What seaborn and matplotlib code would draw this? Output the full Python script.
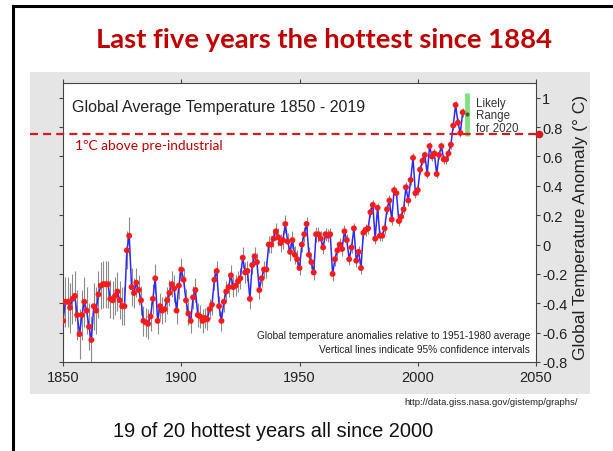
import numpy as np
import pandas as pd
import matplotlib
matplotlib.use("Agg")
import matplotlib.pyplot as plt
from matplotlib.patches import Rectangle
from matplotlib.lines import Line2D
import seaborn as sns

# Annual global temperature anomaly (deg C, relative to 1951-1980), 1850-2019
years = list(range(1850, 2020))
anomaly = [
    -0.52, -0.39, -0.39, -0.43, -0.37, -0.35, -0.48, -0.61, -0.48, -0.39,
    -0.45, -0.56, -0.65, -0.42, -0.45, -0.34, -0.28, -0.27, -0.27, -0.27,
    -0.37, -0.38, -0.35, -0.32, -0.38, -0.42, -0.42, -0.04, 0.06, -0.29,
    -0.33, -0.26, -0.31, -0.38, -0.52, -0.53, -0.54, -0.49, -0.37, -0.23,
    -0.52, -0.42, -0.45, -0.44, -0.38, -0.33, -0.27, -0.30, -0.45, -0.28,
    -0.17, -0.24, -0.38, -0.47, -0.52, -0.36, -0.31, -0.48, -0.49, -0.52,
    -0.50, -0.51, -0.44, -0.41, -0.24, -0.18, -0.42, -0.52, -0.39, -0.32,
    -0.29, -0.21, -0.29, -0.28, -0.25, -0.23, -0.09, -0.19, -0.18, -0.37,
    -0.14, -0.08, -0.12, -0.31, -0.23, -0.17, -0.17, 0.00, 0.00, 0.04,
    0.09, 0.05, 0.01, 0.03, 0.14, 0.02, -0.05, 0.03, -0.07, -0.10,
    -0.16, 0.00, 0.07, 0.14, -0.07, -0.12, -0.19, 0.07, 0.07, 0.04,
    -0.02, 0.07, 0.06, 0.07, -0.20, -0.10, -0.04, 0.00, -0.03, 0.09,
    0.03, -0.10, -0.02, 0.11, -0.11, -0.05, -0.16, 0.08, 0.10, 0.11,
    0.22, 0.27, 0.04, 0.25, 0.06, 0.06, 0.11, 0.24, 0.30, 0.17,
    0.37, 0.35, 0.16, 0.19, 0.24, 0.39, 0.30, 0.44, 0.59, 0.35,
    0.37, 0.51, 0.57, 0.61, 0.48, 0.67, 0.60, 0.62, 0.48, 0.61,
    0.67, 0.58, 0.58, 0.62, 0.68, 0.81, 0.95, 0.83, 0.76, 0.90,
]
# 95% confidence half-width, one value per decade (1850s ... 2010s)
ci_by_decade = [0.17, 0.16, 0.13, 0.10, 0.09, 0.08, 0.07, 0.07, 0.06,
                0.06, 0.05, 0.045, 0.04, 0.035, 0.035, 0.03, 0.03]

x_ticks = [1850, 1900, 1950, 2000, 2050]
y_ticks = [-0.8, -0.6, -0.4, -0.2, 0, 0.2, 0.4, 0.6, 0.8, 1]
y_tick_labels = ["-0.8", "-0.6", "-0.4", "-0.2", "0", "0.2", "0.4", "0.6", "0.8", "1"]

threshold = 0.75            # 1 deg C above pre-industrial
likely_2020 = (0.74, 1.03)  # likely range for 2020
likely_2020_mid = 0.89

df = pd.DataFrame({"year": years, "anomaly": anomaly})
df["ci"] = np.repeat(ci_by_decade, 10)

sns.set_theme(style="white")
plt.rcParams["font.family"] = ["Liberation Sans", "DejaVu Sans"]

W, H = 613, 452
fig = plt.figure(figsize=(W / 100, H / 100), dpi=100)
fig.patch.set_facecolor("white")

# slide frame (left and top edges)
fig.add_artist(Line2D([13 / W, 13 / W], [0, 1 - 7 / H], transform=fig.transFigure,
                      color="black", lw=2.2, solid_capstyle="projecting"))
fig.add_artist(Line2D([13 / W, 1], [1 - 7 / H, 1 - 7 / H], transform=fig.transFigure,
                      color="black", lw=2.2, solid_capstyle="projecting"))

# grey graph panel
fig.add_artist(Rectangle((30 / W, 1 - 395 / H), 560 / W, 322 / H,
                         transform=fig.transFigure, facecolor="#e5e5e5",
                         edgecolor="none", zorder=0))

ax = fig.add_axes([63 / W, 1 - 363 / H, 473 / W, 279 / H])
ax.set_facecolor("white")
ax.set_xlim(1850, 2050)
ax.set_ylim(-0.8, 1.1)

# confidence intervals
ax.vlines(df["year"], df["anomaly"] - df["ci"], df["anomaly"] + df["ci"],
          color="#8a8a8a", lw=0.8, zorder=1)
sns.lineplot(data=df, x="year", y="anomaly", color="#2a2aff", lw=1.1,
             ax=ax, zorder=2, legend=False)
sns.scatterplot(data=df, x="year", y="anomaly", color="#ff1a1a", s=18,
                edgecolor="none", ax=ax, zorder=3, legend=False)

# likely range bar for 2020
ax.vlines(2021, likely_2020[0], likely_2020[1], color="#7fe07f", lw=3.4, zorder=2)
ax.plot([2021], [likely_2020_mid], marker="o", ms=2, color="#2e6b2e", zorder=3)
ax.text(2024.5, 1.005, "Likely\nRange\nfor 2020", ha="left", va="top",
        fontsize=8.3, color="#333333", linespacing=1.05)

# 1 deg C line
ax.plot([1836, 2051.3], [threshold, threshold], color="#d41c1c", lw=1.6,
        dashes=(3.6, 2.3), clip_on=False, zorder=4)
ax.plot([2051.3], [threshold], marker="o", ms=4.5, color="#d41c1c",
        clip_on=False, zorder=4)
ax.text(1855, 0.68, "1ºC above pre-industrial", ha="left", va="center",
        fontsize=9.9, color="#c00000", family=["Lato", "DejaVu Sans"])

ax.text(1854, 0.94, "Global Average Temperature 1850 - 2019", ha="left",
        va="center", fontsize=11.5, color="#222222")
ax.text(2047.5, -0.615, "Global temperature anomalies relative to 1951-1980 average",
        ha="right", va="center", fontsize=7.3, color="#222222")
ax.text(2047.5, -0.71, "Vertical lines indicate 95% confidence intervals",
        ha="right", va="center", fontsize=7.3, color="#222222")

# axes styling
ax.set_xticks(x_ticks)
ax.set_xticklabels([str(t) for t in x_ticks])
ax.set_yticks(y_ticks)
ax.set_yticklabels(y_tick_labels)
ax.tick_params(axis="y", left=True, right=True, labelleft=False, labelright=True,
               direction="out", length=3, width=0.8, color="#444444",
               labelsize=10.5, pad=1.5, labelcolor="#222222")
ax.tick_params(axis="x", bottom=True, top=True, direction="out", length=3,
               width=0.8, color="#444444", labelsize=10.5, pad=3,
               labelcolor="#222222")
ax.set_xlabel("")
ax.set_ylabel("")
for s in ax.spines.values():
    s.set_visible(True)
    s.set_color("#444444")
    s.set_linewidth(0.8)

fig.text(580 / W, 1 - 228 / H, "Global Temperature Anomaly (° C)", rotation=90,
         ha="center", va="center", fontsize=12.5, color="#222222")

# slide texts
fig.text(324 / W, 1 - 40 / H, "Last five years the hottest since 1884",
         ha="center", va="center", fontsize=19.7, fontweight="bold",
         color="#c00000", family=["Lato", "DejaVu Sans"])
fig.text(578 / W, 1 - 403 / H, "http://data.giss.nasa.gov/gistemp/graphs/",
         ha="right", va="center", fontsize=6.8, color="#222222")
fig.text(273 / W, 1 - 432 / H, "19 of 20 hottest years all since 2000",
         ha="center", va="center", fontsize=14.4, color="#111111")

fig.savefig("out.png", dpi=100)
